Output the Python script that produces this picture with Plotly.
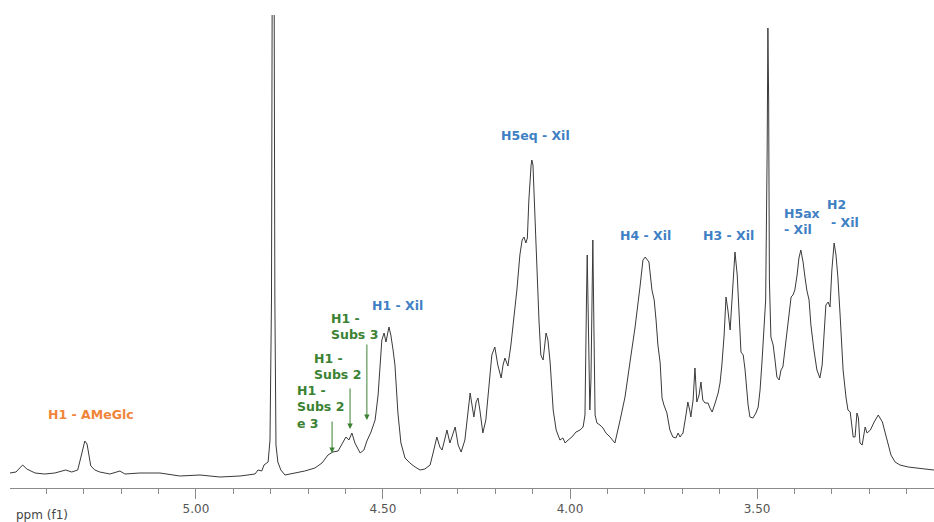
import plotly.graph_objects as go

# Chemical shift (ppm) and intensity (arbitrary units)
ppm = [
    5.497, 5.481, 5.471, 5.463, 5.452, 5.430, 5.404, 5.377, 5.358, 5.348,
    5.332, 5.316, 5.308, 5.302, 5.297, 5.291, 5.286, 5.281, 5.270, 5.257,
    5.230, 5.203, 5.190, 5.150, 5.096, 5.043, 4.989, 4.936, 4.882, 4.842,
    4.834, 4.824, 4.818, 4.807, 4.802, 4.798, 4.795, 4.792, 4.789, 4.786,
    4.781, 4.773, 4.762, 4.735, 4.709, 4.682, 4.663, 4.647, 4.634, 4.620,
    4.610, 4.599, 4.591, 4.583, 4.575, 4.561, 4.551, 4.543, 4.532, 4.521,
    4.513, 4.508, 4.503, 4.497, 4.492, 4.484, 4.479, 4.473, 4.468, 4.460,
    4.452, 4.441, 4.428, 4.414, 4.401, 4.388, 4.374, 4.364, 4.356, 4.348,
    4.342, 4.334, 4.329, 4.321, 4.313, 4.307, 4.299, 4.291, 4.281, 4.273,
    4.267, 4.262, 4.257, 4.251, 4.246, 4.241, 4.233, 4.225, 4.217, 4.209,
    4.201, 4.193, 4.184, 4.179, 4.174, 4.166, 4.158, 4.150, 4.142, 4.134,
    4.128, 4.123, 4.118, 4.114, 4.110, 4.104, 4.102, 4.099, 4.094, 4.088,
    4.083, 4.078, 4.072, 4.064, 4.059, 4.053, 4.045, 4.037, 4.027, 4.019,
    4.013, 4.005, 3.995, 3.984, 3.973, 3.965, 3.960, 3.956, 3.954, 3.952,
    3.949, 3.947, 3.944, 3.940, 3.939, 3.936, 3.933, 3.928, 3.920, 3.912,
    3.904, 3.893, 3.880, 3.866, 3.853, 3.840, 3.826, 3.813, 3.805, 3.799,
    3.794, 3.789, 3.781, 3.775, 3.770, 3.765, 3.759, 3.754, 3.749, 3.741,
    3.733, 3.725, 3.717, 3.711, 3.706, 3.698, 3.690, 3.685, 3.679, 3.677,
    3.671, 3.666, 3.661, 3.655, 3.650, 3.645, 3.639, 3.631, 3.626, 3.620,
    3.612, 3.604, 3.599, 3.594, 3.588, 3.583, 3.578, 3.572, 3.567, 3.561,
    3.559, 3.553, 3.548, 3.543, 3.537, 3.532, 3.524, 3.519, 3.511, 3.503,
    3.497, 3.492, 3.487, 3.481, 3.477, 3.473, 3.471, 3.469, 3.467, 3.463,
    3.457, 3.452, 3.447, 3.441, 3.436, 3.431, 3.425, 3.420, 3.415, 3.409,
    3.404, 3.399, 3.393, 3.388, 3.383, 3.377, 3.372, 3.367, 3.361, 3.356,
    3.348, 3.340, 3.332, 3.326, 3.321, 3.316, 3.310, 3.305, 3.300, 3.294,
    3.289, 3.284, 3.278, 3.270, 3.262, 3.257, 3.251, 3.243, 3.238, 3.233,
    3.229, 3.225, 3.219, 3.211, 3.206, 3.197, 3.187, 3.176, 3.165, 3.157,
    3.150, 3.142, 3.131, 3.118, 3.096, 3.078, 3.051, 3.027,
]
intensity = [
    15, 16, 20, 23, 19, 15, 14, 15, 17, 18,
    16, 18, 30, 41, 47, 44, 32, 22, 18, 16,
    14, 17, 14, 15, 15, 12, 13, 11, 12, 14,
    18, 17, 23, 26, 48, 188, 690, 690, 188, 43,
    26, 18, 13, 15, 17, 20, 25, 33, 36, 37,
    43, 51, 48, 55, 45, 35, 38, 47, 56, 68,
    93, 118, 148, 155, 146, 161, 153, 138, 123, 75,
    45, 30, 25, 21, 18, 19, 23, 38, 51, 41,
    38, 50, 58, 45, 53, 61, 43, 36, 48, 78,
    95, 83, 71, 86, 90, 78, 55, 68, 103, 133,
    141, 123, 110, 123, 130, 122, 143, 168, 198, 233,
    248, 251, 245, 250, 288, 323, 328, 323, 268, 208,
    168, 133, 128, 155, 148, 125, 78, 58, 48, 50,
    45, 48, 51, 56, 58, 61, 73, 188, 233, 188,
    88, 78, 108, 248, 248, 158, 73, 65, 63, 60,
    55, 51, 45, 68, 91, 125, 161, 201, 228, 231,
    229, 226, 198, 188, 168, 143, 125, 90, 83, 75,
    58, 51, 50, 55, 51, 55, 73, 86, 76, 71,
    88, 120, 86, 93, 106, 88, 85, 85, 80, 76,
    85, 95, 105, 123, 153, 191, 178, 158, 188, 233,
    236, 213, 168, 136, 133, 118, 83, 71, 70, 75,
    81, 98, 125, 158, 188, 338, 460, 388, 208, 151,
    143, 128, 111, 108, 118, 121, 141, 158, 175, 191,
    193, 198, 213, 230, 238, 226, 211, 198, 188, 163,
    138, 118, 110, 123, 153, 183, 186, 181, 218, 245,
    233, 211, 173, 118, 90, 78, 76, 51, 51, 75,
    70, 45, 43, 61, 55, 58, 66, 73, 66, 55,
    43, 33, 26, 23, 21, 20, 19, 18,
]

tick_values = [5.0, 4.5, 4.0, 3.5]
tick_labels = ["5.00", "4.50", "4.00", "3.50"]

BLUE = "#3f7fc4"
ORANGE = "#f0853a"
GREEN = "#3a8232"
FONT = "DejaVu Sans"

fig = go.Figure()
fig.add_trace(go.Scatter(
    x=ppm, y=intensity, mode="lines",
    line=dict(color="#3a3a3a", width=1),
    hoverinfo="skip", showlegend=False,
))

annotations = []

def label(text, x, y, color, xanchor="center", yanchor="middle", align="center", size=12.5):
    annotations.append(dict(
        x=x, y=y, xref="x", yref="y", text="<b>" + text + "</b>",
        showarrow=False, xanchor=xanchor, yanchor=yanchor, align=align,
        font=dict(family=FONT, size=size, color=color),
    ))

label("H1 - AMeGlc", 5.281, 74, ORANGE)
label("H1 - Xil", 4.460, 183, BLUE)
label("H5eq - Xil", 4.091, 353, BLUE)
label("H4 - Xil", 3.797, 253, BLUE)
label("H3 - Xil", 3.576, 253, BLUE)
label("H5ax<br>- Xil", 3.434, 267, BLUE, xanchor="left", align="left")
label("H2", 3.287, 284, BLUE)
label("- Xil", 3.265, 266, BLUE)
label("H1 -<br>Subs 3", 4.644, 162, GREEN, xanchor="left", align="left")
label("H1 -<br>Subs 2", 4.689, 122, GREEN, xanchor="left", align="left")
label("H1 -<br>Subs 2<br>e 3", 4.735, 81, GREEN, xanchor="left", align="left")

# arrows (tip at x,y; tail offset in pixels)
for ax_x, ax_y, length in [(4.543, 68, 77), (4.588, 59, 42), (4.636, 35, 33)]:
    annotations.append(dict(
        x=ax_x, y=ax_y, xref="x", yref="y", ax=0, ay=-length,
        showarrow=True, arrowhead=2, arrowsize=1.1, arrowwidth=1,
        arrowcolor=GREEN, text="",
    ))

annotations.append(dict(
    x=0.004, y=-0.058, xref="paper", yref="paper", text="ppm (f1)",
    showarrow=False, xanchor="left", yanchor="middle",
    font=dict(family=FONT, size=12, color="#444444"),
))

fig.update_layout(
    width=934, height=522,
    margin=dict(l=10, r=0, t=15, b=34, autoexpand=False),
    paper_bgcolor="white", plot_bgcolor="white",
    showlegend=False,
    annotations=annotations,
    xaxis=dict(
        range=[5.497, 3.027], automargin=False,
        tickmode="array", tickvals=tick_values, ticktext=tick_labels,
        ticks="outside", ticklen=10, tickcolor="#8a8a8a", tickwidth=1,
        showline=True, linecolor="#8a8a8a", linewidth=1,
        showgrid=False, zeroline=False,
        tickfont=dict(family=FONT, size=12, color="#555555"),
        minor=dict(dtick=0.1, tick0=0, ticks="outside", ticklen=5,
                   tickcolor="#8a8a8a", showgrid=False),
    ),
    yaxis=dict(range=[0, 473], visible=False, fixedrange=True, automargin=False),
)

fig.write_html(
    "out.html",
    config={"displayModeBar": False, "staticPlot": True},
    post_script="document.documentElement.style.margin='0';"
                "document.body.style.margin='0';document.body.style.padding='0';"
                "document.body.style.overflow='hidden';",
)
